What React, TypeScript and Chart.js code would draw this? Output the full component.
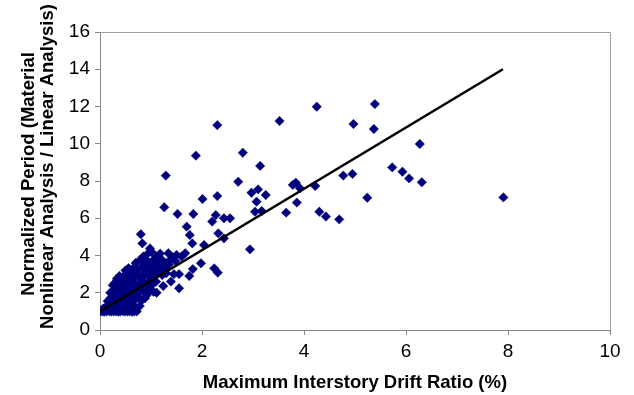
import React, { useEffect, useRef } from "react";
import { Chart, registerables } from "chart.js";

Chart.register(...registerables);

// Scatter data: maximum interstory drift ratio (%) vs normalized period
const driftRatio: number[] = [
  // sparse points
  1.29, 1.88, 2.30, 3.52, 4.25, 2.71, 2.80, 3.14, 3.10, 2.97, 3.25, 2.30, 2.01, 3.78, 3.84, 3.92, 4.22,
  5.39, 4.97, 5.37, 6.27, 5.73, 5.93, 6.06, 6.31, 4.77, 4.95, 5.24, 7.91, 4.30, 4.43, 4.69,
  1.26, 1.52, 1.83, 2.20, 2.27, 2.43, 2.55, 2.32, 2.43, 1.70, 1.76, 1.81, 2.04, 0.80, 0.83,
  1.67, 1.50, 1.34, 1.01, 1.98, 1.82, 1.75, 2.24, 2.31, 2.94, 1.55, 1.55, 1.39, 1.24, 1.11, 0.92, 0.78,
  3.04, 3.17, 3.65, 3.86, 3.07, 0.98,
  // dense cluster
  0.00, 0.04, 0.08, 0.13, 0.18, 0.22, 0.27, 0.31, 0.36, 0.40, 0.45, 0.49, 0.54, 0.58, 0.63, 0.67, 0.72,
  0.06, 0.12, 0.17, 0.24, 0.29, 0.34, 0.39, 0.43, 0.48, 0.53, 0.57, 0.61, 0.66, 0.70,
  0.15, 0.20, 0.25, 0.30, 0.35, 0.41, 0.46, 0.50, 0.55, 0.60, 0.65, 0.70, 0.76, 0.82, 0.88,
  0.20, 0.26, 0.31, 0.36, 0.42, 0.47, 0.52, 0.57, 0.62, 0.68, 0.73, 0.80, 0.86, 0.98, 1.05,
  0.25, 0.30, 0.36, 0.41, 0.46, 0.51, 0.56, 0.61, 0.67, 0.72, 0.79, 0.85, 0.90, 0.97, 1.03, 1.10,
  0.33, 0.38, 0.44, 0.50, 0.55, 0.60, 0.66, 0.72, 0.77, 0.84, 0.90, 0.96, 1.02, 1.08, 1.15, 1.22, 1.30, 1.45,
  0.50, 0.56, 0.62, 0.68, 0.74, 0.82, 0.88, 0.95, 1.00, 1.07, 1.13, 1.20, 1.28, 1.35,
  0.70, 0.78, 0.86, 0.93, 1.00, 1.06, 1.14, 1.22, 1.30, 1.40, 1.48,
  0.85, 0.92, 1.10, 1.18, 1.42, 1.60,
];

const normPeriod: number[] = [
  8.29, 9.36, 11.0, 11.22, 11.99, 7.96, 9.52, 8.81, 7.55, 7.37, 7.25, 7.19, 7.03, 7.79, 7.91, 7.61, 7.73,
  12.13, 11.06, 10.79, 9.99, 8.73, 8.50, 8.14, 7.93, 8.29, 8.38, 7.10, 7.12, 6.35, 6.09, 5.94,
  6.59, 6.23, 6.23, 5.82, 6.17, 6.00, 6.00, 5.19, 4.92, 5.55, 5.10, 4.65, 4.56, 5.14, 4.65,
  4.12, 4.03, 4.12, 4.20, 3.58, 3.27, 2.90, 3.31, 3.08, 4.33, 2.24, 3.00, 2.60, 2.36, 2.00, 1.88, 1.29,
  6.35, 6.39, 6.30, 6.84, 6.89, 4.38,
  1.00, 1.00, 0.98, 1.00, 1.02, 0.99, 1.00, 1.01, 0.98, 1.00, 1.02, 0.99, 1.00, 1.01, 0.98, 1.00, 1.00,
  1.15, 1.25, 1.30, 1.20, 1.35, 1.22, 1.40, 1.28, 1.18, 1.32, 1.45, 1.20, 1.30, 1.15,
  1.55, 1.70, 1.62, 1.78, 1.55, 1.68, 1.80, 1.58, 1.72, 1.60, 1.85, 1.65, 1.75, 1.60, 1.70,
  2.00, 2.10, 1.95, 2.20, 2.05, 1.92, 2.15, 2.00, 2.25, 2.10, 1.95, 2.20, 2.05, 2.15, 2.05,
  2.40, 2.55, 2.35, 2.60, 2.45, 2.30, 2.60, 2.42, 2.55, 2.35, 2.50, 2.62, 2.40, 2.55, 2.45, 2.60,
  2.75, 2.90, 2.80, 3.00, 2.78, 2.95, 2.85, 3.05, 2.80, 2.95, 3.10, 2.85, 3.00, 2.90, 3.10, 2.95, 3.05, 3.00,
  3.20, 3.32, 3.15, 3.40, 3.25, 3.35, 3.20, 3.45, 3.30, 3.40, 3.25, 3.45, 3.30, 3.50,
  3.60, 3.75, 3.55, 3.70, 3.60, 3.80, 3.65, 3.75, 3.60, 3.80, 3.70,
  3.95, 4.05, 3.95, 4.10, 3.90, 3.95,
];

// Trend line end points
const fitX: number[] = [0, 7.9];
const fitY: number[] = [1, 14];

const xTicks = { min: 0, max: 10, step: 2 };
const yTicks = { min: 0, max: 16, step: 2 };

const xTitle = "Maximum Interstory Drift Ratio (%)";
const yTitleLines: string[] = ["Normalized Period (Material", "Nonlinear Analysis / Linear Analysis)"];

const FONT = "'Liberation Sans', Arial, Helvetica, sans-serif";

export default function App() {
  const ref = useRef<HTMLCanvasElement | null>(null);

  useEffect(() => {
    const canvas = ref.current;
    if (!canvas) return;

    const frame = {
      id: "frame",
      beforeDatasetsDraw(chart: any) {
        const { ctx, chartArea } = chart;
        ctx.save();
        ctx.strokeStyle = "#a0a0a0";
        ctx.lineWidth = 1;
        ctx.beginPath();
        ctx.moveTo(chartArea.left, chartArea.top + 0.5);
        ctx.lineTo(chartArea.right + 0.5, chartArea.top + 0.5);
        ctx.lineTo(chartArea.right + 0.5, chartArea.bottom);
        ctx.stroke();
        ctx.restore();
      },
    };

    const yTitle = {
      id: "yTitle",
      afterDraw(chart: any) {
        const { ctx } = chart;
        ctx.save();
        ctx.fillStyle = "#000";
        ctx.font = `bold 18.5px ${FONT}`;
        ctx.textAlign = "center";
        ctx.textBaseline = "alphabetic";
        const pos = [
          [34, 174],
          [53, 166.5],
        ];
        yTitleLines.forEach((t, i) => {
          ctx.save();
          ctx.translate(pos[i][0], pos[i][1]);
          ctx.rotate(-Math.PI / 2);
          ctx.fillText(t, 0, 0);
          ctx.restore();
        });
        ctx.restore();
      },
    };

    const points = driftRatio.map((x, i) => ({ x, y: normPeriod[i] }));
    const line = fitX.map((x, i) => ({ x, y: fitY[i] }));

    const chart = new Chart(canvas, {
      type: "scatter",
      data: {
        datasets: [
          {
            type: "line",
            data: line,
            borderColor: "#000",
            borderWidth: 2.5,
            pointRadius: 0,
            fill: false,
            order: 0,
          } as any,
          {
            data: points,
            pointStyle: "rectRot",
            pointRadius: 4.7,
            borderWidth: 0.5,
            backgroundColor: "#00007f",
            borderColor: "#00007f",
            order: 1,
          },
        ],
      },
      options: {
        animation: false,
        responsive: false,
        devicePixelRatio: 1,
        layout: { padding: { top: 32, right: 24, left: 0, bottom: 0 } },
        plugins: { legend: { display: false }, tooltip: { enabled: false } },
        scales: {
          x: {
            type: "linear",
            min: xTicks.min,
            max: xTicks.max,
            afterFit: (s: any) => {
              s.height = 65;
            },
            ticks: {
              stepSize: xTicks.step,
              color: "#000",
              padding: 5,
              font: { size: 19, family: FONT },
            },
            grid: { drawOnChartArea: false, drawTicks: true, tickLength: 5, color: "#888" },
            border: { color: "#888", width: 1 },
            title: {
              display: true,
              text: xTitle,
              color: "#000",
              font: { size: 18.5, weight: "bold", family: FONT },
              padding: { top: 0, bottom: 1 },
            },
          },
          y: {
            type: "linear",
            min: yTicks.min,
            max: yTicks.max,
            afterFit: (s: any) => {
              s.width = 100;
            },
            ticks: {
              stepSize: yTicks.step,
              color: "#000",
              padding: 5,
              font: { size: 19, family: FONT },
            },
            grid: { drawOnChartArea: false, drawTicks: true, tickLength: 5, color: "#888" },
            border: { color: "#888", width: 1 },
          },
        },
      },
      plugins: [frame, yTitle],
    });

    return () => chart.destroy();
  }, []);

  return (
    <div style={{ position: "fixed", left: 0, top: 0, width: 634, height: 395, background: "#fff" }}>
      <canvas ref={ref} width={634} height={395} style={{ display: "block" }} />
    </div>
  );
}
